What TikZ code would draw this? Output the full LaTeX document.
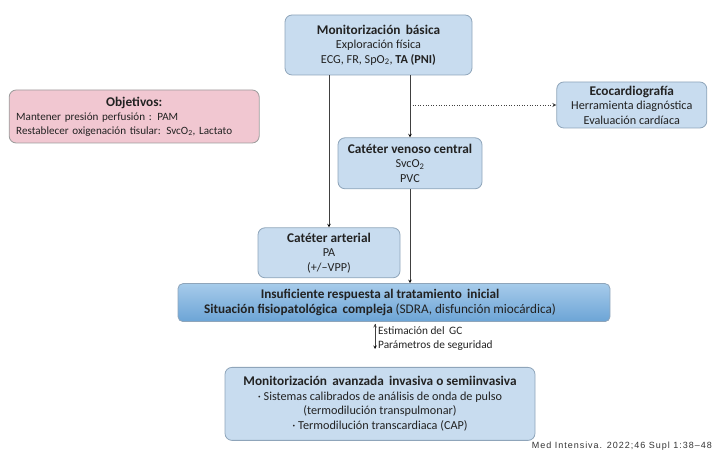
\documentclass[tikz,border=0pt]{standalone}
\usepackage{fontspec}
\setmainfont{Carlito}
\newfontfamily\creditfont[LetterSpace=11]{Liberation Sans}
\usetikzlibrary{arrows,positioning}

\definecolor{boxfill}{HTML}{C8DCEF}
\definecolor{boxline}{HTML}{8FA5BA}
\definecolor{pinkfill}{HTML}{F1C7D1}
\definecolor{pinkline}{HTML}{9C9C9C}
\definecolor{keytop}{HTML}{A6CBEA}
\definecolor{keybottom}{HTML}{6CA4D6}
\definecolor{inktext}{HTML}{222222}

\newcommand{\boxhead}[1]{{\fontsize{13.3}{15}\selectfont\textbf{#1}}}

\tikzset{
    box/.style={draw=boxline, fill=boxfill, rounded corners=7pt, line width=0.8pt,
        align=center, text=inktext, font=\fontsize{12.2}{14.5}\selectfont},
    goalbox/.style={box, draw=pinkline, fill=pinkfill, font=\fontsize{11.1}{14}\selectfont},
    keybox/.style={box, draw=boxline, rounded corners=5pt,
        top color=keytop, bottom color=keybottom, font=\fontsize{13.2}{15}\selectfont},
    link/.style={->, >=stealth, draw=black!75, line width=0.6pt},
    hint/.style={link, dotted, line width=0.8pt},
}

\begin{document}
\begin{tikzpicture}[x=1pt, y=1pt, node distance=20pt]
    \useasboundingbox (0,0) rectangle (715,457);

    \node[box, minimum width=187pt, minimum height=60pt] (basica) at (378.5,412)
        {\boxhead{Monitorización\, básica}\\ Exploración física\\
         ECG, FR, SpO\textsubscript{2}, \textbf{TA (PNI)}};
    \node[goalbox, align=left, text width=236pt, inner xsep=7pt, minimum height=53pt]  (obj)
        [left=25pt of basica, yshift=-71.5pt]
        {{\centering\boxhead{Objetivos:}\par}
         Mantener presión perfusión : PAM\\
         Restablecer oxigenación tisular: SvcO\textsubscript{2}, Lactato};
    \node[box, minimum width=150pt, minimum height=46pt]   (eco)
        [right=84pt of basica, yshift=-60pt]
        {\boxhead{Ecocardiografía}\\ Herramienta diagnóstica\\ Evaluación cardíaca};
    \node[box, minimum width=144pt, minimum height=51pt]   (cvc)
        [below=62pt of basica, xshift=31.5pt]
        {\boxhead{Catéter venoso central}\\ SvcO\textsubscript{2}\\ PVC};
    \node[box, minimum width=142pt, minimum height=50pt]   (art)
        [below=152pt of basica, xshift=-49.5pt]
        {\boxhead{Catéter arterial}\\ PA\\ (+/–VPP)};
    \node[keybox, minimum width=432pt, minimum height=38pt] (insu)
        [below=5pt of art, xshift=65pt]
        {\hspace*{-28pt}\textbf{Insuficiente respuesta al tratamiento\, inicial}\\
         \hspace*{-28pt}\textbf{Situación fisiopatológica\, compleja} (SDRA, disfunción miocárdica)};
    \node[box, minimum width=310pt, minimum height=73pt]   (avz)
        [below=45pt of insu, xshift=-14pt]
        {\boxhead{Monitorización\, avanzada\, invasiva o semiinvasiva}\\
         · Sistemas calibrados de análisis de onda de pulso\\
         (termodilución transpulmonar)\\
         · Termodilución transcardiaca (CAP)};
    \coordinate (gcstart) at ([xshift=-19pt, yshift=-2pt]insu.south);
    \coordinate (gcend) at ([yshift=-25pt]gcstart);
    \node[anchor=north west, align=left, text=inktext,
          font=\fontsize{11.3}{14}\selectfont, inner sep=1pt] (gc)
        at ([xshift=2pt, yshift=-1pt]gcstart)
        {Estimación del\, GC\\ Parámetros de seguridad};
    \node[anchor=south east, inner sep=0pt, text=black!80,
          font=\creditfont\fontsize{9}{10}\selectfont] (credit) at (712,6)
        {Med Intensiva. 2022;46 Supl 1:38–48};

    \path[link] (basica.south -| art.north) edge (art.north)
                (basica.south -| cvc.north) edge (cvc.north)
                (cvc.south) edge (cvc.south |- insu.north)
                (gcstart) edge (gcend)
                ;
    \draw[hint] (cvc.north |- eco.west) -- (eco.west);
\end{tikzpicture}
\end{document}
